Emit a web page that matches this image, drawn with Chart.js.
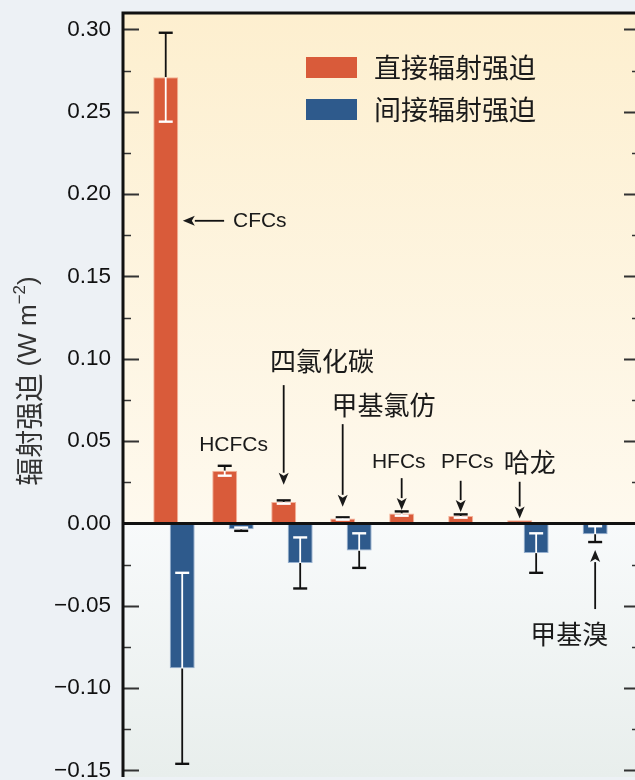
<!DOCTYPE html>
<html lang="zh">
<head>
<meta charset="utf-8">
<title>卤代烃的辐射强迫</title>
<script src="https://cdn.jsdelivr.net/npm/chart.js@4.4.1/dist/chart.umd.min.js"></script>
<style>
  html, body { margin: 0; padding: 0; background: #edf1f5; overflow: hidden; }
  #chart { display: block; }
</style>
</head>
<body>
<canvas id="chart" width="660" height="780"></canvas>
<script>
// data
const categories = ["CFCs", "HCFCs", "四氯化碳", "甲基氯仿", "HFCs", "PFCs", "哈龙", "甲基溴"];
const seriesNames = ["直接辐射强迫", "间接辐射强迫"];
const directForcing = [0.271, 0.032, 0.013, 0.003, 0.006, 0.0045, 0.002, null];
const directError = [0.027, 0.003, 0.001, 0.0007, 0.0013, 0.001, 0, null];
const indirectForcing = [-0.088, -0.0035, -0.024, -0.0165, null, null, -0.018, -0.0065];
const indirectError = [0.058, 0.001, 0.0155, 0.0105, null, null, 0.012, 0.0048];
const yTicks = [-0.15, -0.10, -0.05, 0.00, 0.05, 0.10, 0.15, 0.20, 0.25, 0.30];

const colors = { direct: "#d95b3a", indirect: "#2e5a8c" };
const LATIN = "'Liberation Sans', Arial, sans-serif";
const CJK = "'Noto Sans CJK SC', sans-serif";

// label placement in data units (x = category index, y = forcing value)
const labels = [
    { text: "CFCs", x: 1.0, y: 0.1838, align: "left", font: "21px " + LATIN, arrow: [0.85, 0.1838, 0.15, 0.1838] },
    { text: "HCFCs", x: 1.01, y: 0.0476, font: "21px " + LATIN },
    { text: "四氯化碳", x: 2.51, y: 0.0986, font: "26px " + CJK, arrow: [1.86, 0.084, 1.86, 0.0235] },
    { text: "甲基氯仿", x: 3.55, y: 0.0719, font: "26px " + CJK, arrow: [2.86, 0.0603, 2.86, 0.0101] },
    { text: "HFCs", x: 3.81, y: 0.0374, font: "21px " + LATIN, arrow: [3.86, 0.0275, 3.86, 0.0081] },
    { text: "PFCs", x: 4.97, y: 0.0374, font: "21px " + LATIN, arrow: [4.86, 0.0259, 4.86, 0.0069] },
    { text: "哈龙", x: 6.03, y: 0.0375, font: "26px " + CJK, arrow: [5.86, 0.0253, 5.86, 0.0030] },
    { text: "甲基溴", x: 6.70, y: -0.0673, font: "26px " + CJK, arrow: [7.14, -0.052, 7.14, -0.0162] },
];

const fmtTick = (v) => {
    const r = Math.round(v * 100) / 100;
    return (r < 0 ? "\u2212" : "") + Math.abs(r).toFixed(2);
};

function drawArrow(ctx, x1, y1, x2, y2) {
    const ang = Math.atan2(y2 - y1, x2 - x1);
    const len = 12, wid = 5;
    const bx = x2 - len * Math.cos(ang), by = y2 - len * Math.sin(ang);
    ctx.beginPath();
    ctx.moveTo(x1, y1);
    ctx.lineTo(bx, by);
    ctx.stroke();
    ctx.beginPath();
    ctx.moveTo(x2, y2);
    ctx.lineTo(bx - wid * Math.sin(ang), by + wid * Math.cos(ang));
    ctx.lineTo(bx + 3 * Math.cos(ang), by + 3 * Math.sin(ang));
    ctx.lineTo(bx + wid * Math.sin(ang), by - wid * Math.cos(ang));
    ctx.closePath();
    ctx.fill();
}

const backgroundPlugin = {
    id: "background",
    beforeDraw(chart) {
        const { ctx, chartArea: a, scales: { y } } = chart;
        const y0 = y.getPixelForValue(0);
        ctx.save();
        ctx.fillStyle = "#edf1f5";
        ctx.fillRect(0, 0, chart.width, chart.height);
        let g = ctx.createLinearGradient(0, a.top, 0, y0);
        g.addColorStop(0, "#fdefcf");
        g.addColorStop(1, "#fef9ee");
        ctx.fillStyle = g;
        ctx.fillRect(a.left, a.top, a.right - a.left, y0 - a.top);
        g = ctx.createLinearGradient(0, y0, 0, a.bottom);
        g.addColorStop(0, "#f8fafb");
        g.addColorStop(1, "#e8eeec");
        ctx.fillStyle = g;
        ctx.fillRect(a.left, y0, a.right - a.left, a.bottom - y0);
        ctx.restore();
    },
};

const decorPlugin = {
    id: "decor",
    afterDatasetsDraw(chart) {
        const { ctx, chartArea: a, scales: { x, y } } = chart;
        ctx.save();

        // error bars: black outside the bar, white inside it
        const errs = [directError, indirectError];
        chart.data.datasets.forEach((ds, di) => {
            chart.getDatasetMeta(di).data.forEach((el, i) => {
                const v = ds.data[i].y, e = errs[di][i];
                if (v == null || !e) return;
                const hi = y.getPixelForValue(v + e), lo = y.getPixelForValue(v - e);
                const outer = v >= 0 ? hi : lo, inner = v >= 0 ? lo : hi;
                [[outer, "#111"], [inner, "#ffffff"]].forEach(([end, col]) => {
                    ctx.strokeStyle = col;
                    ctx.lineWidth = 1.8;
                    ctx.beginPath();
                    ctx.moveTo(el.x, el.y);
                    ctx.lineTo(el.x, end);
                    ctx.stroke();
                    ctx.lineWidth = 2.4;
                    ctx.beginPath();
                    ctx.moveTo(el.x - 7, end);
                    ctx.lineTo(el.x + 7, end);
                    ctx.stroke();
                });
            });
        });

        // tick marks pointing inward on both sides
        ctx.strokeStyle = "#333";
        y.ticks.forEach((t) => {
            const py = Math.round(y.getPixelForValue(t.value)) + 0.5;
            ctx.lineWidth = 1.8;
            ctx.beginPath();
            ctx.moveTo(a.left, py); ctx.lineTo(a.left + 16, py);
            ctx.moveTo(a.right, py); ctx.lineTo(a.right - 16, py);
            ctx.stroke();
            const pm = Math.round(y.getPixelForValue(t.value + 0.025)) + 0.5;
            if (pm > a.top + 2) {
                ctx.lineWidth = 1.5;
                ctx.beginPath();
                ctx.moveTo(a.left, pm); ctx.lineTo(a.left + 8, pm);
                ctx.moveTo(a.right, pm); ctx.lineTo(a.right - 8, pm);
                ctx.stroke();
            }
        });

        // zero line and frame
        ctx.strokeStyle = "#111";
        ctx.lineWidth = 3;
        const y0 = y.getPixelForValue(0);
        ctx.beginPath();
        ctx.moveTo(a.left, y0); ctx.lineTo(a.right, y0);
        ctx.moveTo(a.left, a.bottom); ctx.lineTo(a.left, a.top); ctx.lineTo(a.right, a.top); ctx.lineTo(a.right, a.bottom);
        ctx.stroke();

        // annotations
        ctx.fillStyle = "#1a1a1a";
        ctx.strokeStyle = "#111";
        ctx.lineWidth = 1.8;
        labels.forEach((l) => {
            ctx.font = l.font;
            ctx.textAlign = l.align || "center";
            ctx.textBaseline = "middle";
            ctx.fillText(l.text, x.getPixelForValue(l.x), y.getPixelForValue(l.y));
            if (l.arrow) {
                const [x1, y1, x2, y2] = l.arrow;
                drawArrow(ctx, x.getPixelForValue(x1), y.getPixelForValue(y1), x.getPixelForValue(x2), y.getPixelForValue(y2));
            }
        });

        // legend inside the plot
        chart.data.datasets.forEach((ds, di) => {
            const bx = a.left + 183, by = 57 + di * 42;
            ctx.fillStyle = ds.backgroundColor;
            ctx.fillRect(bx, by, 51, 21);
            ctx.fillStyle = "#1a1a1a";
            ctx.font = "27px " + CJK;
            ctx.textAlign = "left";
            ctx.textBaseline = "middle";
            ctx.fillText(ds.label, bx + 68, by + 11);
        });

        // y axis title with superscript
        const parts = [
            { t: "辐射强迫", f: "28px " + CJK, dy: 0 },
            { t: " (W m", f: "26px " + LATIN, dy: 0 },
            { t: "\u22122", f: "17px " + LATIN, dy: -9 },
            { t: ")", f: "26px " + LATIN, dy: 0 },
        ];
        let total = 0;
        parts.forEach((p) => { ctx.font = p.f; p.w = ctx.measureText(p.t).width; total += p.w; });
        ctx.translate(29, 381);
        ctx.rotate(-Math.PI / 2);
        ctx.fillStyle = "#333";
        ctx.textAlign = "left";
        ctx.textBaseline = "middle";
        let cx = -total / 2;
        parts.forEach((p) => { ctx.font = p.f; ctx.fillText(p.t, cx, p.dy); cx += p.w; });

        ctx.restore();
    },
};

const makeData = (vals) => vals.map((v, i) => ({ x: i, y: v }));

new Chart(document.getElementById("chart"), {
    type: "bar",
    data: {
        datasets: [
            {
                label: seriesNames[0],
                data: makeData(directForcing),
                backgroundColor: colors.direct,
                borderColor: "rgba(240,150,120,0.7)",
                borderWidth: 1,
            },
            {
                label: seriesNames[1],
                data: makeData(indirectForcing),
                backgroundColor: colors.indirect,
                borderColor: "rgba(110,145,190,0.7)",
                borderWidth: 1,
            },
        ],
    },
    options: {
        responsive: false,
        animation: false,
        layout: { autoPadding: false, padding: { top: 13, bottom: 3, right: 20, left: 0 } },
        // wide bars that overlap a little between the two series
        categoryPercentage: 0.559,
        barPercentage: 1.515,
        scales: {
            x: {
                type: "linear",
                display: false,
                offset: false,
                min: -0.864,
                max: 7.9,
                ticks: { stepSize: 1, includeBounds: false },
            },
            y: {
                min: -0.154,
                max: 0.31,
                afterFit: (s) => {
                    s.width = 123;
                    s.paddingTop = 0;
                    s.paddingBottom = 0;
                },
                afterBuildTicks: (s) => { s.ticks = yTicks.map((v) => ({ value: v })); },
                grid: { display: false, drawTicks: false },
                border: { display: false },
                ticks: {
                    padding: 12,
                    color: "#111",
                    font: { family: LATIN, size: 22.5 },
                    callback: fmtTick,
                },
            },
        },
        plugins: {
            legend: { display: false },
            tooltip: { enabled: false },
        },
    },
    plugins: [backgroundPlugin, decorPlugin],
});
</script>
</body>
</html>
